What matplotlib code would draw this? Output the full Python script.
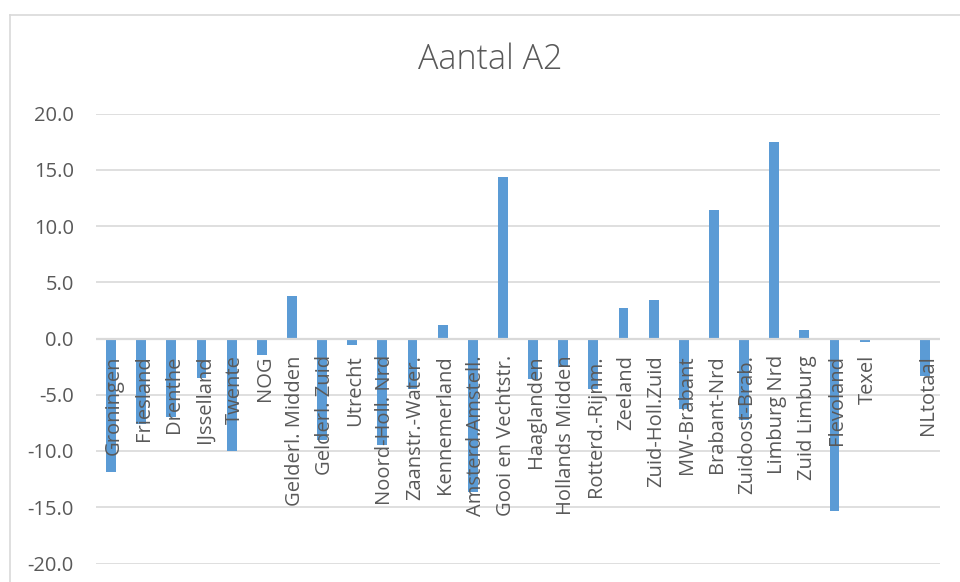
import numpy as np
import matplotlib
matplotlib.use("Agg")
import matplotlib.pyplot as plt
from matplotlib.lines import Line2D

plt.rcParams["font.family"] = ["Open Sans", "DejaVu Sans"]
plt.rcParams["axes.unicode_minus"] = False

title = "Aantal A2"
regions = [
    "Groningen", "Friesland", "Drenthe", "IJsselland", "Twente", "NOG",
    "Gelderl. Midden", "Gelderl. Zuid", "Utrecht", "Noord-Holl. Nrd",
    "Zaanstr.-Water.", "Kennemerland", "Amsterd.Amstell.", "Gooi en Vechtstr.",
    "Haaglanden", "Hollands Midden", "Rotterd.-Rijnm.", "Zeeland",
    "Zuid-Holl.Zuid", "MW-Brabant", "Brabant-Nrd", "Zuidoost-Brab.",
    "Limburg Nrd", "Zuid Limburg", "Flevoland", "Texel", "", "NLtotaal",
]
values = [
    -11.9, -7.6, -7.0, -3.5, -10.0, -1.5,
    3.8, -9.0, -0.6, -9.5,
    -4.5, 1.2, -13.6, 14.4,
    -3.6, -2.5, -4.5, 2.7,
    3.4, -6.3, 11.4, -7.2,
    17.5, 0.8, -15.3, -0.3, None, -3.3,
]
y_ticks = [-20, -15, -10, -5, 0, 5, 10, 15, 20]

bar_color = "#5b9bd5"
grid_color = "#d9d9d9"
text_color = "#595959"

W, H, DPI = 960, 582, 100
fig = plt.figure(figsize=(W / DPI, H / DPI), dpi=DPI)
fig.patch.set_facecolor("white")

# chart-area border (runs off the right and bottom edges)
fig.add_artist(Line2D([10 / W, 10 / W], [1 - 15 / H, 0], color=grid_color,
                      lw=1.2, transform=fig.transFigure))
fig.add_artist(Line2D([10 / W, 1], [1 - 15 / H, 1 - 15 / H], color=grid_color,
                      lw=1.2, transform=fig.transFigure))

ax = fig.add_axes([96 / W, 1 - 563.5 / H, (940 - 96) / W, (563.5 - 113.5) / H])

idx = [i for i, v in enumerate(values) if v is not None]
vals = [values[i] for i in idx]
ax.bar(idx, vals, width=0.33, color=bar_color, zorder=2)

ax.set_xlim(-0.5, len(regions) - 0.5)
ax.set_ylim(-20, 20)
ax.set_yticks(y_ticks)
ax.set_yticklabels([f"{t:.1f}" for t in y_ticks], color=text_color, fontsize=14.5)
ax.tick_params(axis="y", length=0, pad=16)
ax.set_xticks([])
for s in ax.spines.values():
    s.set_visible(False)
ax.grid(axis="y", color=grid_color, lw=1.2, zorder=0)
ax.set_axisbelow(True)
ax.axhline(0, color=grid_color, lw=1.6, zorder=3)

for i, name in enumerate(regions):
    if name:
        ax.annotate(name, xy=(i, 0), xytext=(2, -12), textcoords="offset points",
                    rotation=90, ha="center", va="top", fontsize=14.5,
                    color=text_color, zorder=4)

fig.text(490 / W, 1 - 60 / H, title, ha="center", va="center",
         fontsize=24.5, color=text_color, fontweight="light")

fig.savefig("out.png", dpi=DPI)
